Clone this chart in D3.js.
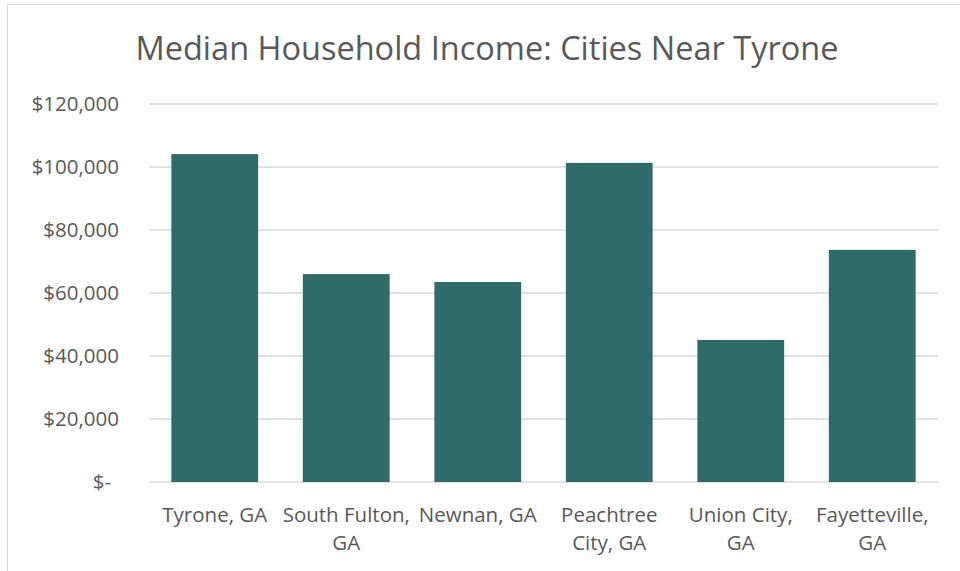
<!DOCTYPE html>
<html>
<head>
<meta charset="utf-8">
<script src="https://cdn.jsdelivr.net/npm/d3@7"></script>
<style>
  body { margin: 0; background: #fff; }
  text { font-family: "Open Sans", "Noto Sans", sans-serif; fill: #595959; }
</style>
</head>
<body>
<svg id="chart" width="960" height="571"></svg>
<script>
var cities = ["Tyrone, GA", "South Fulton, GA", "Newnan, GA", "Peachtree City, GA", "Union City, GA", "Fayetteville, GA"];
// tick labels as wrapped in the original
var cityLines = [["Tyrone, GA"], ["South Fulton,", "GA"], ["Newnan, GA"],
                 ["Peachtree", "City, GA"], ["Union City,", "GA"], ["Fayetteville,", "GA"]];
var incomes = [104100, 66000, 63500, 101300, 45100, 73700];
var yTicks = [0, 20000, 40000, 60000, 80000, 100000, 120000];

var svg = d3.select("#chart");
var margin = {left: 149, right: 22, top: 104, bottom: 89};
var W = 960, H = 571;

// chart border
svg.append("rect").attr("x", 7.5).attr("y", 4.5)
   .attr("width", W).attr("height", H)
   .attr("fill", "none").attr("stroke", "#d9d9d9");

svg.append("text").attr("x", 487).attr("y", 60)
   .attr("text-anchor", "middle").style("font-size", "32.5px")
   .text("Median Household Income: Cities Near Tyrone");

var x = d3.scaleBand().domain(cities)
          .range([margin.left, W - margin.right]).paddingInner(0.34).paddingOuter(0.17);
var y = d3.scaleLinear().domain([0, 120000]).range([H - margin.bottom, margin.top]);

function fmt(v) { return v === 0 ? "$-" : "$" + d3.format(",")(v); }

// gridlines
svg.append("g").selectAll("line").data(yTicks).enter().append("line")
   .attr("x1", margin.left).attr("x2", W - margin.right)
   .attr("y1", d => y(d)).attr("y2", d => y(d))
   .attr("stroke", "#d9d9d9").attr("stroke-width", 1.3);

// y labels
svg.append("g").selectAll("text").data(yTicks).enter().append("text")
   .attr("x", d => d === 0 ? 111 : 119).attr("y", d => y(d) + 7)
   .attr("text-anchor", "end").style("font-size", "20.5px")
   .text(fmt);

// bars
svg.append("g").selectAll("rect").data(cities).enter().append("rect")
   .attr("x", d => x(d)).attr("width", x.bandwidth())
   .attr("y", (d, i) => y(incomes[i]))
   .attr("height", (d, i) => y(0) - y(incomes[i]))
   .attr("fill", "#2e6b69");

// category labels
svg.append("g").selectAll("text").data(cities).enter().append("text")
   .attr("text-anchor", "middle").style("font-size", "20.5px")
   .attr("y", 522)
   .each(function(d, i) {
       var cx = x(d) + x.bandwidth() / 2;
       d3.select(this).selectAll("tspan").data(cityLines[i]).enter().append("tspan")
         .attr("x", cx).attr("dy", (l, j) => j ? 28 : 0).text(l => l);
   });
</script>
</body>
</html>
